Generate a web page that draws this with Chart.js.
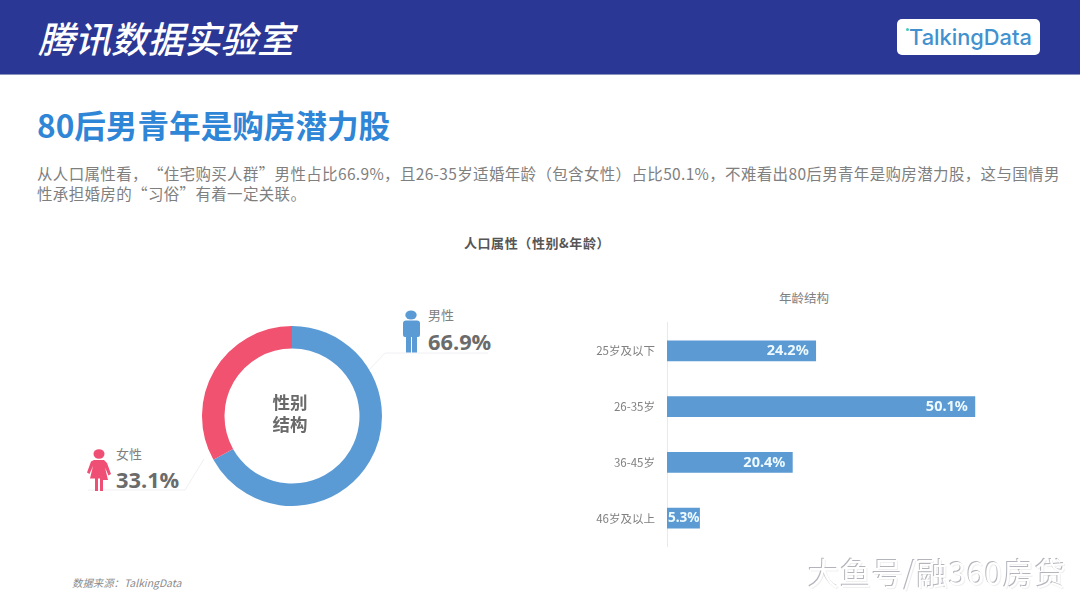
<!DOCTYPE html>
<html lang="zh-CN">
<head>
<meta charset="utf-8">
<title>腾讯数据实验室</title>
<script src="https://cdn.jsdelivr.net/npm/chart.js@4"></script>
<style>
html,body{margin:0;padding:0;background:#fff;}
#page{position:relative;width:1080px;height:608px;overflow:hidden;background:#fff;font-family:"Noto Sans CJK SC","Noto Sans",sans-serif;text-spacing-trim:space-all;}
#page div{position:absolute;white-space:nowrap;}
canvas{position:absolute;display:block;}
svg{position:absolute;left:0;top:0;}
#band{left:0;top:0;width:1080px;height:74px;background:#2a3795;border-bottom:1px solid #8a93bf;}
#brand{left:38px;top:12px;font-size:36.500px;line-height:52px;font-style:italic;font-weight:500;color:#fff;}
#logo{left:897px;top:19px;width:143px;height:36px;background:#fff;border-radius:5px;}
#logoText{left:909px;top:19px;font-family:Inter,sans-serif;font-size:21.800px;line-height:36px;font-weight:500;color:#4291cf;}
#logoDot{left:906px;top:28px;width:3px;height:3px;border-radius:50%;background:#3ecbc0;}
#heading{left:37px;top:100px;font-size:31.600px;line-height:48px;font-weight:700;color:#2f86d6;}
#intro{left:37px;top:163px;font-size:15.500px;letter-spacing:.34px;line-height:20px;color:#7f7f7f;font-weight:400;}
#subtitle{left:337px;width:400px;text-align:center;top:233px;font-size:13px;letter-spacing:.6px;line-height:20px;font-weight:700;color:#555;}
#ageTitle{left:704px;width:200px;text-align:center;top:288px;font-size:12.500px;line-height:20px;color:#808080;}
.cat{font-size:13px;line-height:18px;color:#7f7f7f;}
.pct{font-family:"Open Sans",sans-serif;font-size:21.800px;line-height:30px;font-weight:700;color:#6b6b6b;}
#source{left:72px;top:575px;font-size:10.400px;line-height:16px;font-style:italic;color:#8a8a8a;}
#mark{left:808px;top:551px;font-size:31px;line-height:42px;color:#fff;letter-spacing:.9px;text-shadow:-1px -1px 0 #b4b4bc,1px 1px 0 #f0f0f0;}
</style>
</head>
<body>
<div id="page">
  <div id="band"></div>
  <div id="brand">腾讯数据实验室</div>
  <div id="logo"></div>
  <div id="logoDot"></div>
  <div id="logoText">TalkingData</div>
  <div id="heading">80后男青年是购房潜力股</div>
  <div id="intro">从人口属性看，“住宅购买人群”男性占比66.9%，且26-35岁适婚年龄（包含女性）占比50.1%，不难看出80后男青年是购房潜力股，这与国情男<br>性承担婚房的“习俗”有着一定关联。</div>
  <div id="subtitle">人口属性（性别&amp;年龄）</div>
  <div id="ageTitle">年龄结构</div>

  <svg width="1080" height="608" aria-hidden="true">
    <polyline points="367,372 385,353 488,353" fill="none" stroke="#f0f0f4" stroke-width="1"/>
    <polyline points="204,459 185,490 88,490" fill="none" stroke="#f0f0f4" stroke-width="1"/>
    <g fill="#5b9bd5">
      <ellipse cx="411" cy="315" rx="5.700" ry="4.500"/>
      <path d="M405 320.500h12q3 0 3 3V335q0 2-2 2h-1V352.500h-5V337h-1V352.500h-5V337h-1q-2 0-2-2V323.500q0-3 3-3z"/>
    </g>
    <g fill="#ef4f74">
      <ellipse cx="99" cy="454" rx="5.500" ry="4.800"/>
      <path d="M94 460h10l3 3 4 11-2.500 1.500-3.500-8 3 12.500H103V491h-3V478.500h-2V491h-3V478.500h-5l3-12.500-3.500 8-2.500-1.500 4-11z"/>
    </g>
  </svg>

  <canvas id="genderChart" width="180" height="180" style="left:202px;top:326px;width:180px;height:180px"></canvas>
  <div class="cat" id="maleName" style="left:428px;top:306px"></div>
  <div class="pct" id="malePct" style="left:428px;top:327px"></div>
  <div class="cat" id="femaleName" style="left:116px;top:445px"></div>
  <div class="pct" id="femalePct" style="left:116px;top:465px"></div>

  <canvas id="ageChart" width="425" height="261" style="left:580px;top:304px;width:425px;height:261px"></canvas>

  <div id="source">数据来源：TalkingData</div>
  <div id="mark">大鱼号/融360房贷</div>
</div>

<script>
const genderLabels = ['男性', '女性'];
const genderValues = [66.9, 33.1];
const genderColors = ['#5b9bd5', '#f0526f'];
const genderCentreLines = ['性别', '结构'];

const ageLabels = ['25岁及以下', '26-35岁', '36-45岁', '46岁及以上'];
const ageValues = [24.2, 50.1, 20.4, 5.3];
const ageColor = '#5b9ad3';

document.getElementById('maleName').textContent = genderLabels[0];
document.getElementById('malePct').textContent = genderValues[0] + '%';
document.getElementById('femaleName').textContent = genderLabels[1];
document.getElementById('femalePct').textContent = genderValues[1] + '%';

Chart.defaults.animation = false;
Chart.defaults.font.family = '"Noto Sans CJK SC", "Noto Sans", sans-serif';

const centreText = {
  id: 'centreText',
  afterDraw(chart) {
    const ctx = chart.ctx;
    const cx = (chart.chartArea.left + chart.chartArea.right) / 2;
    const cy = (chart.chartArea.top + chart.chartArea.bottom) / 2;
    ctx.save();
    ctx.font = '700 17.5px "Noto Sans CJK SC", sans-serif';
    ctx.fillStyle = '#6a6a6a';
    ctx.textAlign = 'center';
    ctx.textBaseline = 'middle';
    genderCentreLines.forEach((line, i) => {
      ctx.fillText(line, cx - 2, cy + (i - 0.5) * 22 - 3);
    });
    ctx.restore();
  }
};

new Chart(document.getElementById('genderChart'), {
  type: 'doughnut',
  data: {
    labels: genderLabels,
    datasets: [{ data: genderValues, backgroundColor: genderColors, borderWidth: 0 }]
  },
  options: {
    responsive: false,
    cutout: '75%',
    layout: { padding: 0 },
    plugins: { legend: { display: false }, tooltip: { enabled: false } }
  },
  plugins: [centreText]
});

const barValueLabels = {
  id: 'barValueLabels',
  afterDatasetsDraw(chart) {
    const ctx = chart.ctx;
    const meta = chart.getDatasetMeta(0);
    ctx.save();
    ctx.font = '700 14.5px "Noto Sans", sans-serif';
    ctx.fillStyle = '#eefaff';
    ctx.textAlign = 'right';
    ctx.textBaseline = 'middle';
    meta.data.forEach((bar, i) => {
      const text = ageValues[i] + '%';
      const room = bar.x - bar.base;
      const inset = ctx.measureText(text).width + 14 > room ? 0 : 7;
      ctx.fillText(text, bar.x - inset, bar.y, room - inset - 1);
    });
    ctx.restore();
  }
};

new Chart(document.getElementById('ageChart'), {
  type: 'bar',
  data: {
    labels: ageLabels,
    datasets: [{ data: ageValues, backgroundColor: ageColor, barThickness: 20, borderWidth: 0 }]
  },
  options: {
    responsive: false,
    indexAxis: 'y',
    layout: { padding: 0 },
    scales: {
      x: { display: false, min: 0, max: 55 },
      y: {
        afterFit(scale) { scale.width = 87; },
        grid: { display: false, drawTicks: false },
        border: { display: true, color: '#e8e8f0', width: 1 },
        ticks: { color: '#808080', padding: 12, font: { size: 11.5 } }
      }
    },
    plugins: { legend: { display: false }, tooltip: { enabled: false } }
  },
  plugins: [barValueLabels]
});
</script>
</body>
</html>
